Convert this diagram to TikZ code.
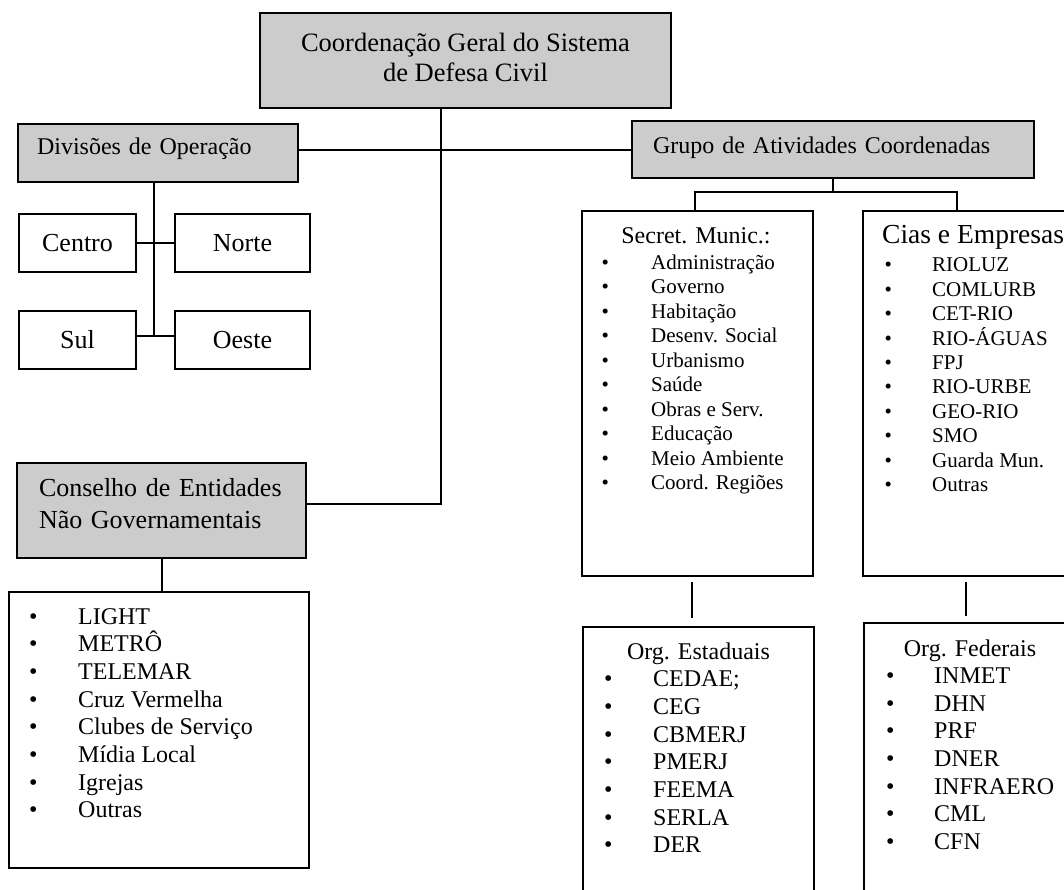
\documentclass[tikz,border=0pt]{standalone}
\usepackage{fontspec}
\setmainfont{Liberation Serif}
\usetikzlibrary{positioning}

\newcommand{\itembul}[2]{\makebox[#1][l]{\textbullet}#2}
\newcommand{\lowstrut}[1]{\rule[-#1]{0pt}{#1}}

\begin{document}
\begin{tikzpicture}[x=1pt,y=-1pt,node distance=37pt,
box/.style={rectangle,draw,line width=2pt,inner sep=0pt},
graybox/.style={box,fill=black!20},
region/.style={box,minimum height=58pt,font=\fontsize{26}{30}\selectfont},
link/.style={line width=2pt},
txt/.style={inner sep=0pt,anchor=base west}]
\useasboundingbox (0,0) rectangle (1064,889);
\clip (0,0) rectangle (1064,889);

\node[graybox,minimum width=411pt,minimum height=95pt,align=center,font=\fontsize{26.5}{30}\selectfont] (coord) at (465.5,60.5) {Coordenação Geral do Sistema\\de Defesa Civil\lowstrut{7pt}};
\node[graybox,inner xsep=19pt,text width=242pt,minimum height=58pt,align=left,font=\fontsize{24}{28}\selectfont] (divisoes) at (158,153) {Divisões de Operação\lowstrut{14pt}};
\node[graybox,inner xsep=21pt,text width=360pt,minimum height=57pt,align=left,font=\fontsize{24}{28}\selectfont] (grupo) at (833,149.5) {Grupo de Atividades Coordenadas\lowstrut{9pt}};
\node[graybox,inner xsep=22pt,text width=245pt,minimum height=95pt,align=left,font=\fontsize{26}{32}\selectfont] (conselho) at (161.5,510.5) {Conselho de Entidades\\Não Governamentais\lowstrut{14pt}};

\node[region,minimum width=117pt] (centro) at (77.5,243) {Centro};
\node[region,minimum width=135pt,right=37pt of centro] (norte) {Norte};
\node[region,minimum width=117pt,below=37pt of centro] (sul) {Sul};
\node[region,minimum width=135pt,below=37pt of norte] (oeste) {Oeste};

\node[box,minimum width=231pt,minimum height=365pt] (secret) at (697.5,393.5) {};
\node[box,minimum width=220pt,minimum height=365pt] (cias) at (973,393.5) {};
\node[box,minimum width=231pt,minimum height=273pt] (estad) at (698.5,763.5) {};
\node[box,minimum width=220pt,minimum height=277pt] (fed) at (974,761.5) {};
\node[box,minimum width=300pt,minimum height=276pt] (ong) at (159,730) {};

\draw[link] ([xshift=-24.5pt]coord.south) |- ([yshift=6.5pt]conselho.east);
\draw[link] (grupo.west) -- (grupo.west -| divisoes.east);
\draw[link] ([xshift=-4pt]divisoes.south) -- ([xshift=-4pt,yshift=4pt]divisoes.south |- sul.east);
\draw[link] (centro) -- (norte);
\draw[link] ([yshift=4pt]sul.east) -- ([yshift=4pt]oeste.west);
\draw[link] (conselho.south) -- (conselho.south |- ong.north);
\coordinate (gjoin) at (grupo.south |- 0,192);
\draw[link] (grupo.south) -- (gjoin);
\draw[link] ([xshift=-2.5pt]secret.north) |- (gjoin) -| ([xshift=-16pt]cias.north);
\draw[link,shorten <=5pt,shorten >=8pt] ([xshift=-5.5pt]secret.south) -- ([xshift=-6.5pt]estad.north);
\draw[link,shorten <=5pt,shorten >=6pt] ([xshift=-7pt]cias.south) -- ([xshift=-8pt]fed.north);

\node[txt,anchor=base,font=\fontsize{24}{28}\selectfont] (secrethead) at (696,243) {Secret. Munic.:};
\foreach \t [count=\i] in {Administração,Governo,Habitação,Desenv. Social,Urbanismo,Saúde,Obras e Serv.,Educação,Meio Ambiente,Coord. Regiões}
  \node[txt,font=\fontsize{21}{24}\selectfont] (sec\i) at (601.3,{269.3+24.5*(\i-1)}) {\itembul{49.7pt}{\t}};

\node[txt,font=\fontsize{27.5}{30}\selectfont] (ciashead) at (882,243) {Cias e Empresas};
\foreach \t [count=\i] in {RIOLUZ,COMLURB,CET-RIO,RIO-ÁGUAS,FPJ,RIO-URBE,GEO-RIO,SMO,Guarda Mun.,Outras}
  \node[txt,font=\fontsize{21}{24}\selectfont] (cia\i) at (884.3,{271.8+24.4*(\i-1)}) {\itembul{47.7pt}{\t}};

\node[txt,anchor=base,font=\fontsize{24}{28}\selectfont] (estadhead) at (698.5,659) {Org. Estaduais};
\foreach \t [count=\i] in {CEDAE;,CEG,CBMERJ,PMERJ,FEEMA,SERLA,DER}
  \node[txt,font=\fontsize{24}{28}\selectfont] (est\i) at (603.8,{686.7+27.7*(\i-1)}) {\itembul{49.2pt}{\t}};

\node[txt,anchor=base,font=\fontsize{24}{28}\selectfont] (fedhead) at (970,656) {Org. Federais};
\foreach \t [count=\i] in {INMET,DHN,PRF,DNER,INFRAERO,CML,CFN}
  \node[txt,font=\fontsize{24}{28}\selectfont] (fed\i) at (885.8,{683.3+27.7*(\i-1)}) {\itembul{48.2pt}{\t}};

\foreach \t [count=\i] in {LIGHT,METRÔ,TELEMAR,Cruz Vermelha,Clubes de Serviço,Mídia Local,Igrejas,Outras}
  \node[txt,font=\fontsize{24}{28}\selectfont] (ong\i) at (28.8,{624+27.7*(\i-1)}) {\itembul{49.2pt}{\t}};
\end{tikzpicture}
\end{document}
